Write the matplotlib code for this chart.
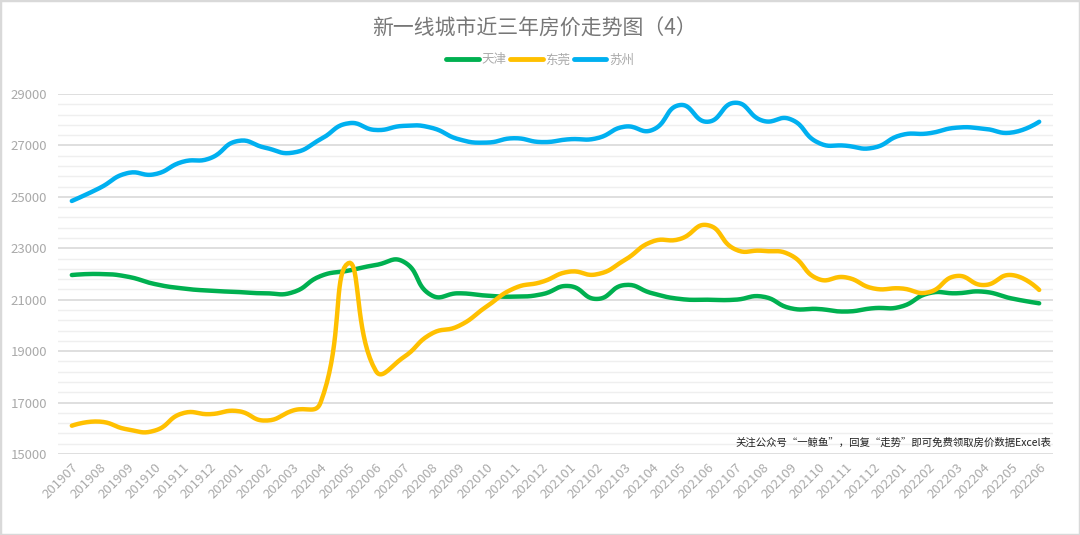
import numpy as np
import matplotlib
matplotlib.use('Agg')
import matplotlib.pyplot as plt
from matplotlib.lines import Line2D
from matplotlib.patches import Rectangle

plt.rcParams['font.family'] = ['Noto Sans CJK SC', 'DejaVu Sans']

# Data
months = ['201907', '201908', '201909', '201910', '201911', '201912',
          '202001', '202002', '202003', '202004', '202005', '202006',
          '202007', '202008', '202009', '202010', '202011', '202012',
          '202101', '202102', '202103', '202104', '202105', '202106',
          '202107', '202108', '202109', '202110', '202111', '202112',
          '202201', '202202', '202203', '202204', '202205', '202206']

tianjin = [21960, 22000, 21900, 21610, 21440, 21350, 21300, 21250, 21290, 21920,
           22130, 22350, 22480, 21180, 21250, 21160, 21120, 21210, 21530, 21030,
           21570, 21250, 21030, 21000, 21000, 21120, 20670, 20640, 20540, 20670,
           20730, 21250, 21250, 21310, 21050, 20860]
dongguan = [16100, 16260, 15960, 15910, 16580, 16550, 16670, 16300, 16690, 17000,
            22420, 18230, 18760, 19670, 19980, 20730, 21440, 21690, 22090, 21990,
            22540, 23260, 23360, 23900, 22960, 22900, 22740, 21810, 21870, 21440,
            21440, 21290, 21920, 21570, 21960, 21380]
suzhou = [24840, 25340, 25920, 25880, 26360, 26500, 27170, 26910, 26720, 27240,
          27860, 27600, 27760, 27690, 27240, 27110, 27280, 27130, 27240, 27280,
          27730, 27600, 28570, 27920, 28660, 27960, 28020, 27110, 26990, 26910,
          27400, 27470, 27690, 27650, 27500, 27920]

series_names = ['天津', '东莞', '苏州']
colors = ['#00b050', '#ffc000', '#00b0f0']
note = '关注公众号“一鲸鱼”，回复“走势”即可免费领取房价数据Excel表'


def smooth_curve(xs, ys, sx=27.7, sy=0.0257, smooth=0.5, n=20):
    # bezier smoothing (same idea as echarts smooth lines), distances in pixel units
    px = np.asarray(xs, float) * sx
    py = np.asarray(ys, float) * sy
    pts = np.column_stack([px, py])
    m = len(pts)
    cp_in = pts.copy()
    cp_out = pts.copy()
    for i in range(1, m - 1):
        prev, cur, nxt = pts[i - 1], pts[i], pts[i + 1]
        v = nxt - prev
        d0 = np.linalg.norm(cur - prev)
        d1 = np.linalg.norm(nxt - cur)
        tot = d0 + d1
        if tot == 0:
            continue
        cp_in[i] = cur - v * smooth * d0 / tot
        cp_out[i] = cur + v * smooth * d1 / tot
    t = np.linspace(0, 1, n)[:, None]
    out = []
    for i in range(m - 1):
        p0, p1, p2, p3 = pts[i], cp_out[i], cp_in[i + 1], pts[i + 1]
        seg = ((1 - t) ** 3) * p0 + 3 * ((1 - t) ** 2) * t * p1 + 3 * (1 - t) * t ** 2 * p2 + t ** 3 * p3
        out.append(seg if i == 0 else seg[1:])
    out = np.vstack(out)
    return out[:, 0] / sx, out[:, 1] / sy


fig = plt.figure(figsize=(10.8, 5.35), dpi=100)
ax = fig.add_axes([58 / 1080, 81 / 535, (1053 - 58) / 1080, 360 / 535])

x = np.arange(len(months))

# grid
for v in np.arange(15000, 29001, 400):
    major = (v - 15000) % 2000 == 0
    ax.axhline(v, color='#d9d9d9' if major else '#efefef', lw=1.2 if major else 1.0, zorder=0)

for ys, c in zip([tianjin, dongguan, suzhou], colors):
    sxs, sys_ = smooth_curve(x, ys)
    ax.plot(sxs, sys_, color=c, lw=3.2, solid_capstyle='round', solid_joinstyle='round', zorder=3)

ax.set_xlim(-0.5, len(months) - 0.5)
ax.set_ylim(15000, 29000)
ax.set_yticks(np.arange(15000, 29001, 2000))
ax.set_xticks(x)
ax.set_xticklabels(months, rotation=45, ha='right', rotation_mode='anchor')
ax.tick_params(axis='both', length=0, colors='#aaaaaa', labelsize=9.5)
ax.tick_params(axis='y', pad=8)
ax.tick_params(axis='x', pad=5)
for s in ax.spines.values():
    s.set_visible(False)

ax.text(0.9985, 0.018, note, transform=ax.transAxes, ha='right', va='bottom',
        fontsize=7.5, color='#222222')

fig.text(0.495, 0.947, '新一线城市近三年房价走势图（4）', ha='center', va='center',
         fontsize=15, color='#777777')

handles = [Line2D([0], [0], color=c, lw=3.5, solid_capstyle='round') for c in colors]
leg = fig.legend(handles, series_names, loc='center', bbox_to_anchor=(0.5, 0.888), ncol=3,
                 frameon=False, fontsize=9, handlelength=2.6, handletextpad=0.2,
                 columnspacing=0.3, labelcolor='#aaaaaa')

fig.patches.append(Rectangle((0, 0), 1, 1, transform=fig.transFigure, fill=False,
                             edgecolor='#d9d9d9', lw=2.5))

fig.savefig('out.png', dpi=100)
